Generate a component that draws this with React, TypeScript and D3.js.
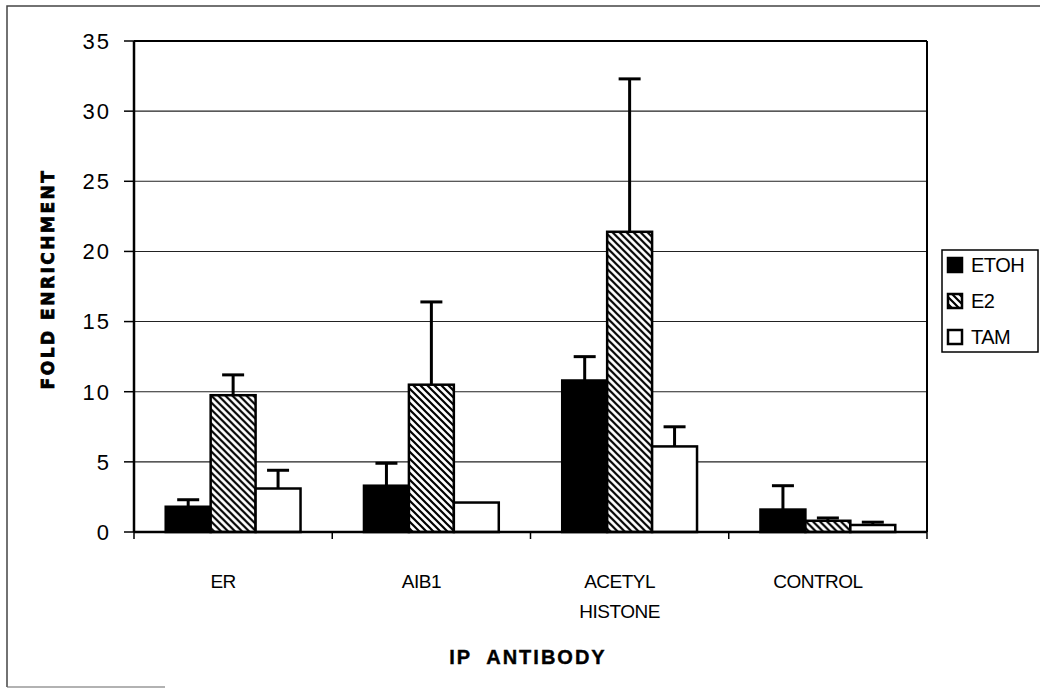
import React from 'react'
import * as d3 from 'd3'

// categories and series
const CATEGORIES = ['ER', 'AIB1', 'ACETYL HISTONE', 'CONTROL']
const SERIES = ['ETOH', 'E2', 'TAM']
const ETOH = [1.8, 3.3, 10.8, 1.6]
const E2 = [9.75, 10.5, 21.4, 0.8]
const TAM = [3.1, 2.1, 6.1, 0.5]
// top of the (upper-only) error bars
const ETOH_ERR = [2.3, 4.9, 12.5, 3.3]
const E2_ERR = [11.2, 16.4, 32.3, 1.0]
const TAM_ERR = [4.4, null, 7.5, 0.7]
const Y_TICKS = [0, 5, 10, 15, 20, 25, 30, 35]

const W = 1040
const H = 688
const margin = { top: 41, right: 113, bottom: 156, left: 134 }
const FONT = '"Liberation Sans", Arial, Helvetica, sans-serif'

const values: Record<string, number[]> = { ETOH, E2, TAM }
const errs: Record<string, (number | null)[]> = { ETOH: ETOH_ERR, E2: E2_ERR, TAM: TAM_ERR }
const fills: Record<string, string> = { ETOH: '#000', E2: 'url(#hatch)', TAM: '#fff' }

export default function App() {
  const x0 = d3.scaleBand<string>()
    .domain(CATEGORIES)
    .range([margin.left, W - margin.right])
    .paddingInner(0.32)
    .paddingOuter(0.16)
  const x1 = d3.scaleBand<string>().domain(SERIES).range([0, x0.bandwidth()])
  const y = d3.scaleLinear().domain([0, 35]).range([H - margin.bottom, margin.top])

  const left = margin.left
  const right = W - margin.right
  const bottom = y(0)
  const top = y(35)
  const step = x0.step()

  return (
    <svg width={W} height={H} style={{ position: 'absolute', left: 0, top: 0, background: '#fff' }}
      fontFamily={FONT}>
      <defs>
        <pattern id="hatch" patternUnits="userSpaceOnUse" width={7} height={7}>
          <rect width={7} height={7} fill="#fff" />
          <path d="M-1,-1 L8,8 M-3,4 L3,10 M4,-3 L10,3" stroke="#000" strokeWidth={2.2} />
        </pattern>
      </defs>

      {/* outer frame of the scan */}
      <path d={`M7,687 L7,6 L${W},6`} fill="none" stroke="#444" strokeWidth={1.5} />
      <path d="M7,687 L165,687" fill="none" stroke="#666" strokeWidth={1.2} />

      {/* gridlines */}
      {Y_TICKS.filter(t => t > 0 && t < 35).map(t => (
        <line key={t} x1={left} x2={right} y1={y(t)} y2={y(t)} stroke="#222" strokeWidth={1.1} />
      ))}

      {/* plot frame */}
      <line x1={left} x2={right} y1={top} y2={top} stroke="#000" strokeWidth={2} />
      <line x1={right} x2={right} y1={top} y2={bottom} stroke="#000" strokeWidth={2} />

      {/* bars */}
      {CATEGORIES.map((c, i) => (
        <g key={c} transform={`translate(${x0(c)},0)`}>
          {SERIES.map(s => {
            const v = values[s][i]
            const bx = x1(s)!
            const bw = x1.bandwidth()
            const e = errs[s][i]
            return (
              <g key={s}>
                {e != null && (
                  <g stroke="#000" strokeWidth={3}>
                    <line x1={bx + bw / 2} x2={bx + bw / 2} y1={y(v)} y2={y(e)} />
                    <line x1={bx + bw / 2 - 11} x2={bx + bw / 2 + 11} y1={y(e)} y2={y(e)} />
                  </g>
                )}
                <rect x={bx} y={y(v)} width={bw} height={bottom - y(v)}
                  fill={fills[s]} stroke="#000" strokeWidth={2.5} />
              </g>
            )
          })}
        </g>
      ))}

      {/* axes */}
      <line x1={left} x2={left} y1={top} y2={bottom} stroke="#000" strokeWidth={2.5} />
      <line x1={left} x2={right} y1={bottom} y2={bottom} stroke="#000" strokeWidth={2.5} />
      {Y_TICKS.map(t => (
        <g key={t}>
          <line x1={left - 10} x2={left} y1={y(t)} y2={y(t)} stroke="#000" strokeWidth={1.5} />
          <text x={111} y={y(t)} dy="0.36em" textAnchor="end" fontSize={22} letterSpacing={2}>{t}</text>
        </g>
      ))}
      {CATEGORIES.map(c => (
        <line key={c} x1={x0(c)! - step * 0.16} x2={x0(c)! - step * 0.16} y1={bottom} y2={bottom + 7}
          stroke="#000" strokeWidth={1.5} />
      ))}
      <line x1={right} x2={right} y1={bottom} y2={bottom + 7} stroke="#000" strokeWidth={1.5} />

      {CATEGORIES.map(c => {
        const cx = x0(c)! + x0.bandwidth() / 2 - 10
        const lines = c === 'ACETYL HISTONE' ? ['ACETYL', 'HISTONE'] : [c]
        return (
          <text key={c} x={cx} y={588} textAnchor="middle" fontSize={19} letterSpacing={-0.5}>
            {lines.map((l, k) => (
              <tspan key={l} x={cx} dy={k === 0 ? 0 : 30}>{l}</tspan>
            ))}
          </text>
        )
      })}

      {/* axis titles */}
      <text x={528} y={664} textAnchor="middle" fontSize={20} fontWeight="bold" letterSpacing={2}
        stroke="#000" strokeWidth={0.4} style={{ whiteSpace: 'pre' }}>{'IP  ANTIBODY'}</text>
      <text transform={`translate(54,${279}) rotate(-90)`} textAnchor="middle" fontSize={17}
        fontWeight="bold" fontFamily='"DejaVu Sans", sans-serif' letterSpacing={2.5}
        stroke="#000" strokeWidth={0.8}>FOLD ENRICHMENT</text>

      {/* legend */}
      <rect x={942} y={250} width={96} height={102} fill="#fff" stroke="#000" strokeWidth={1.5} />
      {SERIES.map((s, i) => {
        const ly = 265 + i * 36
        return (
          <g key={s}>
            <rect x={948} y={ly - 7} width={14} height={14} fill={fills[s]} stroke="#000" strokeWidth={2.5} />
            <text x={971} y={ly} dy="0.36em" fontSize={20} letterSpacing={-0.5}>{s}</text>
          </g>
        )
      })}
    </svg>
  )
}
